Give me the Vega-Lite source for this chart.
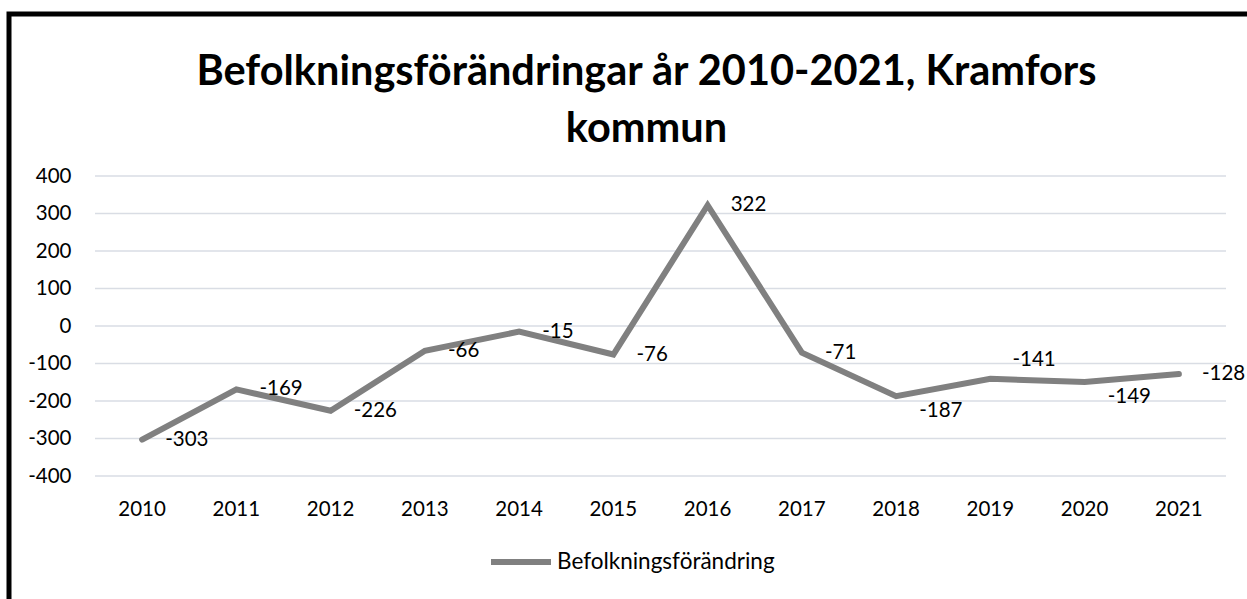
{
  "$schema": "https://vega.github.io/schema/vega-lite/v6.json",
  "autosize": {"type": "none"},
  "padding": {"left": 9, "top": 14, "right": 0, "bottom": 0},
  "width": 1251,
  "height": 596,
  "background": "white",
  "title": {
    "text": ["Befolkningsförändringar år 2010-2021, Kramfors", "kommun"],
    "font": "Lato",
    "fontSize": 41.5,
    "fontWeight": "bold",
    "color": "#000000",
    "anchor": "middle",
    "frame": "group",
    "offset": 0,
    "baseline": "alphabetic",
    "dy": 169,
    "dx": 12,
    "lineHeight": 57
  },
  "config": {
    "locale": {"number": {"decimal": ".", "thousands": ",", "grouping": [3], "currency": ["", ""], "minus": "-"}},
    "view": {"stroke": "#000000", "strokeWidth": 5},
    "axisY": {"domain": false, "ticks": false, "grid": false, "labelFont": "Lato", "labelFontSize": 20.5, "labelColor": "#000000", "offset": -86, "labelPadding": 24},
    "axisX": {"domain": false, "ticks": false, "grid": false, "labelFont": "Lato", "labelFontSize": 20.5, "labelColor": "#000000", "offset": -134, "labelPadding": 23, "labelAngle": 0},
    "legend": {"labelFont": "Lato", "labelFontSize": 22.5, "labelColor": "#000000", "labelLimit": 500, "symbolType": "stroke", "symbolStrokeWidth": 6, "symbolSize": 3600, "padding": 0, "labelOffset": 3, "orient": "none", "legendX": 479, "legendY": 515}
  },
  "data": {
    "values": [
      {"year": "2010", "value": -303},
      {"year": "2011", "value": -169},
      {"year": "2012", "value": -226},
      {"year": "2013", "value": -66},
      {"year": "2014", "value": -15},
      {"year": "2015", "value": -76},
      {"year": "2016", "value": 322},
      {"year": "2017", "value": -71},
      {"year": "2018", "value": -187},
      {"year": "2019", "value": -141},
      {"year": "2020", "value": -149},
      {"year": "2021", "value": -128}
    ]
  },
  "layer": [
    {
      "data": {"values": [{"g": -400}, {"g": -300}, {"g": -200}, {"g": -100}, {"g": 0}, {"g": 100}, {"g": 200}, {"g": 300}, {"g": 400}]},
      "mark": {"type": "rule", "color": "#d9dde4", "strokeWidth": 1.5},
      "encoding": {
        "y": {"field": "g", "type": "quantitative", "title": null, "scale": {"domain": [-757.33, 832], "nice": false, "zero": false}, "axis": {"values": [-400, -300, -200, -100, 0, 100, 200, 300, 400]}},
        "x": {"datum": "2010", "type": "ordinal", "bandPosition": 0, "title": null},
        "x2": {"datum": "2021", "bandPosition": 1}
      }
    },
    {
      "mark": {"type": "line", "strokeWidth": 6, "strokeCap": "round", "strokeJoin": "miter"},
      "encoding": {
        "x": {"field": "year", "type": "ordinal", "title": null, "scale": {"type": "band", "range": [86, 1217], "paddingInner": 0, "paddingOuter": 0}},
        "y": {"field": "value", "type": "quantitative", "title": null, "axis": {"values": [-400, -300, -200, -100, 0, 100, 200, 300, 400]}},
        "color": {"datum": "Befolkningsförändring", "type": "nominal", "scale": {"range": ["#808080"]}, "legend": {"title": null}}
      }
    },
    {
      "transform": [{"filter": {"not": {"field": "year", "oneOf": ["2018", "2019", "2020"]}}}],
      "mark": {"type": "text", "align": "left", "baseline": "middle", "dx": 23, "font": "Lato", "fontSize": 20.5, "color": "#000000"},
      "encoding": {
        "x": {"field": "year", "type": "ordinal"},
        "y": {"field": "value", "type": "quantitative"},
        "text": {"field": "value", "type": "quantitative"}
      }
    },
    {
      "transform": [{"filter": {"field": "year", "oneOf": ["2018", "2020"]}}],
      "mark": {"type": "text", "align": "left", "baseline": "middle", "dx": 23, "dy": 15, "font": "Lato", "fontSize": 20.5, "color": "#000000"},
      "encoding": {
        "x": {"field": "year", "type": "ordinal"},
        "y": {"field": "value", "type": "quantitative"},
        "text": {"field": "value", "type": "quantitative"}
      }
    },
    {
      "transform": [{"filter": {"field": "year", "oneOf": ["2019"]}}],
      "mark": {"type": "text", "align": "left", "baseline": "middle", "dx": 22, "dy": -19, "font": "Lato", "fontSize": 20.5, "color": "#000000"},
      "encoding": {
        "x": {"field": "year", "type": "ordinal"},
        "y": {"field": "value", "type": "quantitative"},
        "text": {"field": "value", "type": "quantitative"}
      }
    }
  ]
}
